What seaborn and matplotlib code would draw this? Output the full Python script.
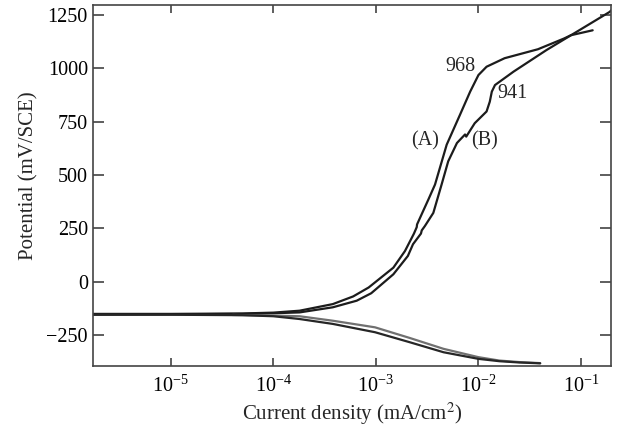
import matplotlib
matplotlib.use("Agg")
import matplotlib.pyplot as plt
import seaborn as sns
import pandas as pd

# anodic branches (current density mA/cm2, potential mV/SCE)
anodic_a_i = [1.7e-6, 1e-5, 5e-5, 1e-4, 1.8e-4, 3.8e-4, 6.0e-4, 8.5e-4, 1.48e-3, 1.92e-3,
              2.35e-3, 2.5e-3, 2.52e-3, 2.79e-3, 3.25e-3, 3.77e-3, 4.9e-3, 6.6e-3,
              8.3e-3, 1.0e-2, 1.2e-2, 1.8e-2, 3.8e-2, 6.8e-2, 8.0e-2, 1.3e-1]
anodic_a_e = [-152, -152, -150, -146, -137, -106, -70, -28, 65, 143,
              225, 255, 268, 315, 385, 455, 642, 782,
              891, 969, 1008, 1048, 1090, 1140, 1156, 1179]

anodic_b_i = [1.7e-6, 1e-5, 5e-5, 1e-4, 1.8e-4, 3.8e-4, 6.5e-4, 9.0e-4, 1.48e-3, 2.05e-3,
              2.3e-3, 2.75e-3, 2.8e-3, 3.0e-3, 3.63e-3, 4.37e-3, 5.07e-3, 6.17e-3,
              6.6e-3, 7.4e-3, 7.6e-3, 8.2e-3, 9.2e-3, 1.2e-2, 1.29e-2, 1.35e-2,
              1.45e-2, 2.2e-2, 4.6e-2, 8.0e-2, 1.9e-1, 2.1e-1]
anodic_b_e = [-155, -154, -152, -149, -145, -121, -90, -55, 34, 120,
              175, 225, 240, 260, 322, 455, 564, 650,
              665, 690, 680, 705, 743, 798, 844, 891,
              922, 985, 1086, 1156, 1265, 1285]

# cathodic branches
cathodic_a_i = [1.7e-6, 1e-5, 5e-5, 1e-4, 1.8e-4, 3.8e-4, 9.8e-4, 2.14e-3, 4.57e-3,
                1.0e-2, 1.6e-2, 2.5e-2, 4.0e-2]
cathodic_a_e = [-156, -156, -158, -163, -176, -199, -238, -285, -332,
                -363, -374, -380, -384]

cathodic_b_i = [4e-5, 1e-4, 1.8e-4, 3.8e-4, 9.8e-4, 2.14e-3, 4.57e-3,
                1.0e-2, 1.6e-2, 2.5e-2, 4.0e-2]
cathodic_b_e = [-157, -160, -163, -184, -215, -265, -316,
                -355, -371, -378, -383]

y_ticks = [-250, 0, 250, 500, 750, 1000, 1250]
x_ticks = [1e-5, 1e-4, 1e-3, 1e-2, 1e-1]

sns.set_theme(style="ticks")
plt.rcParams["font.family"] = ["Liberation Serif", "DejaVu Serif"]
plt.rcParams["mathtext.fontset"] = "stix"

fig = plt.figure(figsize=(6.19, 4.29), dpi=100)
ax = fig.add_axes([0.151, 0.1476, 0.836, 0.8404])

series = [
    (anodic_a_i, anodic_a_e, "#1c1c1c"),
    (anodic_b_i, anodic_b_e, "#1c1c1c"),
    (cathodic_b_i, cathodic_b_e, "#707070"),
    (cathodic_a_i, cathodic_a_e, "#262626"),
]
for xi, ye, col in series:
    df = pd.DataFrame({"i": xi, "E": ye})
    sns.lineplot(data=df, x="i", y="E", sort=False, estimator=None,
                 color=col, lw=1.6, ax=ax)

ax.set_xscale("log")
ax.set_xlim(1.76e-6, 0.196)
ax.set_ylim(-395, 1297)
ax.set_xticks(x_ticks)
ax.set_yticks(y_ticks)
ax.minorticks_off()

ax.tick_params(axis="both", direction="in", top=True, right=True,
               labelsize=14.5, width=1.1, colors="#333333", labelcolor="black")
ax.tick_params(axis="x", length=6, pad=7)
ax.tick_params(axis="y", length=8, pad=4)
for s in ax.spines.values():
    s.set_linewidth(1.2)
    s.set_color("#444444")

ax.set_xlabel("Current density (mA/cm$^2$)", fontsize=15, labelpad=3)
ax.set_ylabel("Potential (mV/SCE)", fontsize=15)
ax.yaxis.set_label_coords(-0.106, 0.527)

ax.text(6.6e-3, 1008, "968", fontsize=14.5, ha="center", va="center")
ax.text(2.17e-2, 882, "941", fontsize=14.5, ha="center", va="center")
ax.text(3.0e-3, 662, "(A)", fontsize=14.5, ha="center", va="center")
ax.text(1.156e-2, 662, "(B)", fontsize=14.5, ha="center", va="center")

fig.savefig("out.png", dpi=100)
